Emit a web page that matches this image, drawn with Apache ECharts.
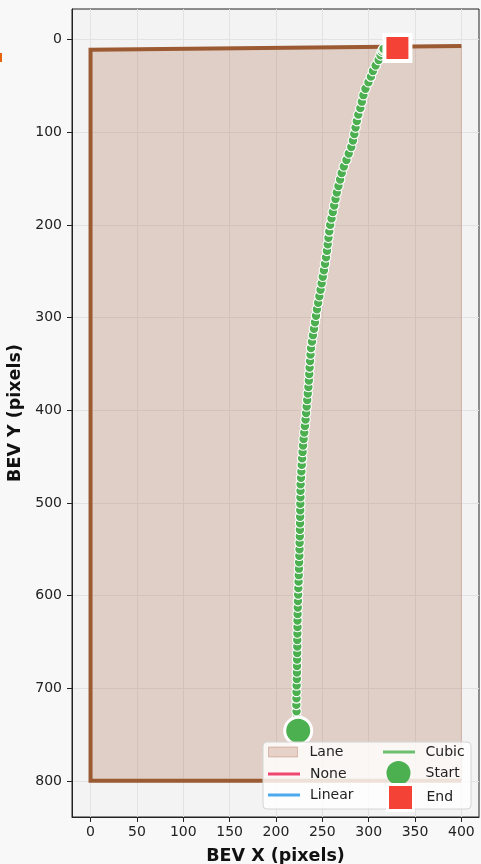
<!DOCTYPE html>
<html>
<head>
<meta charset="utf-8">
<script src="https://cdn.jsdelivr.net/npm/echarts@6/dist/echarts.min.js"></script>
<style>
  html, body { margin: 0; padding: 0; background: #f8f8f8; }
  #chart { width: 481px; height: 864px; }
</style>
</head>
<body>
<div id="chart"></div>
<script>
// Lane polygon corners (BEV pixel coordinates)
const laneX = [0, 0, 400, 400];
const laneY = [800, 11, 7, 800];
// Painted lane boundary (left, top and bottom edges)
const edgeX = [400, 0, 0, 400];
const edgeY = [7, 11, 800, 800];

// Cubic-interpolated vehicle trajectory
const trajY = [746, 739, 732, 725, 718, 711, 704, 697, 690, 683, 676, 669, 662, 655, 648, 641,
  634, 627, 620, 613, 606, 599, 592, 585, 578, 571, 564, 557, 550, 543, 536, 529, 522, 515,
  508, 501, 494, 487, 480, 473, 466, 459, 452, 445, 438, 431, 424, 417, 410, 403, 396, 389,
  382, 375, 368, 361, 354, 347, 340, 333, 326, 319, 312, 305, 298, 291, 284, 277, 270, 263,
  256, 249, 242, 235, 228, 221, 214, 207, 200, 193, 186, 179, 172, 165, 158, 151, 144, 137,
  130, 123, 116, 109, 102, 95, 88, 81, 74, 67, 60, 53, 46, 40, 34, 28, 22, 17, 13, 11, 10];
const trajX = [224.0, 223.2, 222.6, 222.2, 222.0, 222.1, 222.2, 222.3, 222.5, 222.6, 222.7, 222.8,
  222.9, 223.0, 223.0, 223.1, 223.2, 223.2, 223.3, 223.5, 223.7, 223.9, 224.1, 224.4, 224.6,
  224.8, 225.0, 225.2, 225.4, 225.5, 225.7, 225.8, 226.0, 226.1, 226.2, 226.3, 226.4, 226.5,
  226.6, 227.0, 227.4, 227.8, 228.2, 228.7, 229.2, 229.8, 230.5, 231.2, 231.9, 232.5, 233.1,
  233.7, 234.3, 235.0, 235.5, 235.9, 236.3, 236.8, 237.3, 237.8, 238.8, 239.9, 241.0, 242.1,
  243.2, 244.2, 245.5, 246.8, 248.1, 249.3, 250.5, 251.7, 252.9, 254.0, 255.0, 255.8, 256.6,
  257.5, 258.5, 259.9, 261.3, 262.8, 264.2, 265.6, 267.4, 269.2, 270.9, 273.2, 276.0, 278.5,
  281.2, 283.0, 284.5, 285.8, 287.2, 288.8, 291.0, 292.6, 294.3, 296.5, 299.8, 302.4, 304.6,
  307.5, 310.8, 312.8, 314.2, 315.2, 316.0];

// Other interpolation modes (no samples in this frame)
const noneX = [], noneY = [];
const linearX = [], linearY = [];

const startPoint = [224, 746];
const endPoint = [331, 9];

const xTicks = [0, 50, 100, 150, 200, 250, 300, 350, 400];
const yTicks = [0, 100, 200, 300, 400, 500, 600, 700, 800];

const zip = (xs, ys) => xs.map((x, i) => [x, ys[i]]);

const FONT = 'DejaVu Sans';
const lineIcon = 'path://M0,0H32V3H0Z';

const chart = echarts.init(document.getElementById('chart'), null, { renderer: 'canvas' });

function legendAt(name, left, top, w, h, icon, padLeft, itemStyle) {
  return {
    data: [{ name: name, icon: icon, itemStyle: itemStyle }],
    left: left, top: top, padding: 0, z: 60,
    itemWidth: w, itemHeight: h,
    selectedMode: false,
    textStyle: { fontFamily: FONT, fontSize: 14, color: '#222', padding: [0, 0, 0, padLeft] }
  };
}

chart.setOption({
  animation: false,
  backgroundColor: '#f8f8f8',
  grid: {
    left: 72, right: 2, top: 9, bottom: 47,
    outerBoundsMode: 'none', containLabel: false,
    show: true, backgroundColor: '#f3f3f3', borderColor: '#222', borderWidth: 1
  },
  xAxis: {
    type: 'value', min: -20, max: 419,
    name: 'BEV X (pixels)', nameLocation: 'middle', nameGap: 30,
    nameTextStyle: { fontFamily: FONT, fontSize: 17.5, fontWeight: 'bold', color: '#111' },
    axisLine: { show: true, onZero: false, lineStyle: { color: '#222' } },
    axisTick: { show: true, length: 5, customValues: xTicks, lineStyle: { color: '#222' } },
    axisLabel: { customValues: xTicks, margin: 8, fontFamily: FONT, fontSize: 14, color: '#222' },
    splitLine: { show: true, lineStyle: { color: '#e2e2e2', width: 1 } }
  },
  yAxis: {
    type: 'value', inverse: true, min: -33, max: 839,
    name: 'BEV Y (pixels)', nameLocation: 'middle', nameGap: 45, nameRotate: 90,
    nameTextStyle: { fontFamily: FONT, fontSize: 17.5, fontWeight: 'bold', color: '#111' },
    axisLine: { show: true, onZero: false, lineStyle: { color: '#222' } },
    axisTick: { show: true, length: 5, customValues: yTicks, lineStyle: { color: '#222' } },
    axisLabel: { customValues: yTicks, margin: 10, fontFamily: FONT, fontSize: 14, color: '#222' },
    splitLine: { show: true, lineStyle: { color: '#e2e2e2', width: 1 } }
  },
  legend: [
    legendAt('Lane', 268, 745, 29, 10, 'rect', 7,
      { color: 'rgba(160,82,45,0.22)', borderColor: 'rgba(160,82,45,0.3)', borderWidth: 1 }),
    legendAt('None', 268, 767, 32, 3, lineIcon, 5, { color: '#ef476f', borderWidth: 0 }),
    legendAt('Linear', 268, 788, 32, 3, lineIcon, 5, { color: '#4aa8ec', borderWidth: 0 }),
    legendAt('Cubic', 383, 745, 33, 3, lineIcon, 5, { color: '#6cbf6c', borderWidth: 0 }),
    legendAt('Start', 386.5, 761, 24, 24, 'circle', 10, { color: '#4caf50', borderWidth: 0 }),
    legendAt('End', 386, 783, 26, 26, 'rect', 8,
      { color: '#f44336', borderColor: '#ffffff', borderWidth: 3 })
  ],
  graphic: [
    { type: 'rect', z: 50, shape: { x: 263, y: 742, width: 208, height: 67, r: 4 },
      style: { fill: 'rgba(255,255,255,0.82)', stroke: '#d4d4d4', lineWidth: 1 } },
    { type: 'rect', z: 50, shape: { x: 0, y: 53, width: 2, height: 9 },
      style: { fill: '#e8630f' } }
  ],
  series: [
    {
      name: 'Lane', type: 'custom', z: 1,
      itemStyle: { color: 'rgba(160,82,45,0.22)' },
      data: zip(laneX, laneY),
      renderItem: function (params, api) {
        if (params.dataIndex !== 0) return null;
        const pts = laneX.map((x, i) => api.coord([x, laneY[i]]));
        return {
          type: 'polygon', shape: { points: pts },
          style: { fill: 'rgba(160,82,45,0.22)', stroke: 'rgba(160,82,45,0.25)', lineWidth: 1 }
        };
      }
    },
    {
      name: 'LaneEdge', type: 'line', z: 2, symbol: 'none', silent: true,
      data: zip(edgeX, edgeY),
      lineStyle: { color: '#9c5a33', width: 4, join: 'miter' }
    },
    { name: 'None', type: 'line', symbol: 'none', data: zip(noneX, noneY),
      itemStyle: { color: '#ef476f' }, lineStyle: { color: '#ef476f', width: 2 } },
    { name: 'Linear', type: 'line', symbol: 'none', data: zip(linearX, linearY),
      itemStyle: { color: '#4aa8ec' }, lineStyle: { color: '#4aa8ec', width: 2 } },
    {
      name: 'Cubic', type: 'line', z: 4,
      data: zip(trajX, trajY),
      symbol: 'circle', symbolSize: 9.5, showSymbol: true, showAllSymbol: true,
      itemStyle: { color: '#4caf50', borderColor: '#ffffff', borderWidth: 1.1 },
      lineStyle: { color: '#6cbf6c', width: 2 }
    },
    {
      name: 'Start', type: 'scatter', z: 5,
      data: [startPoint], symbol: 'circle', symbolSize: 27,
      itemStyle: { color: '#4caf50', borderColor: '#ffffff', borderWidth: 3, opacity: 1 }
    },
    {
      name: 'End', type: 'scatter', z: 5,
      data: [endPoint], symbol: 'rect', symbolSize: 26,
      itemStyle: { color: '#f44336', borderColor: '#ffffff', borderWidth: 4, opacity: 1 }
    }
  ]
});
</script>
</body>
</html>
